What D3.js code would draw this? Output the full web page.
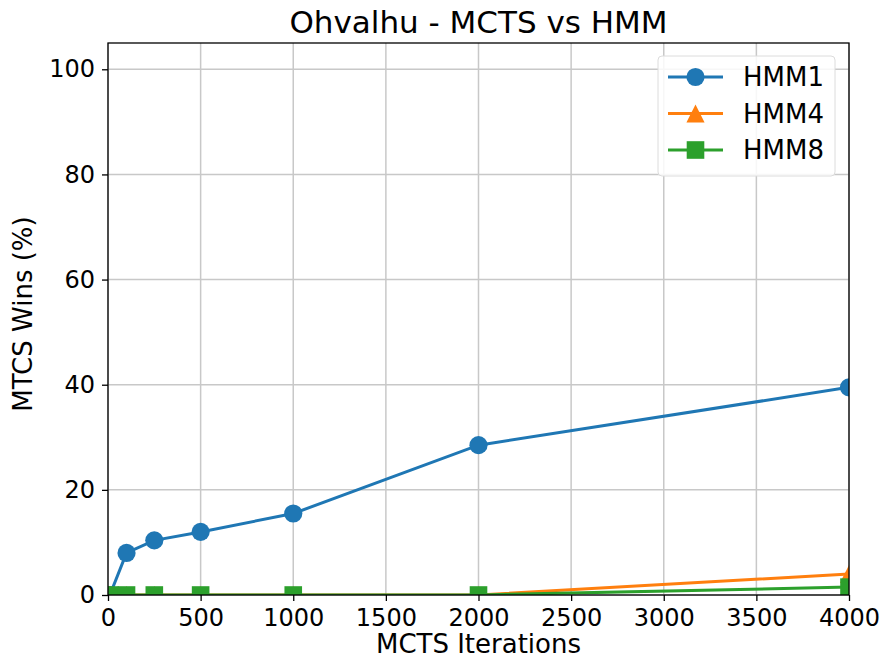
<!DOCTYPE html>
<html>
<head>
<meta charset="utf-8">
<script src="https://cdn.jsdelivr.net/npm/d3@7"></script>
<style>
  body { margin: 0; background: #fff; overflow: hidden; }
  svg { display: block; }
  text { font-family: "DejaVu Sans", sans-serif; fill: #000; }
</style>
</head>
<body>
<div id="chart"></div>
<script>
// Data
const iterations = [10, 100, 250, 500, 1000, 2000, 4000];
const hmm1 = [0, 8, 10.4, 12, 15.5, 28.5, 39.5];
const hmm4 = [0, 0, 0, 0, 0, 0, 4];
const hmm8 = [0, 0, 0, 0, 0, 0, 1.5];
const xTicks = [0, 500, 1000, 1500, 2000, 2500, 3000, 3500, 4000];
const yTicks = [0, 20, 40, 60, 80, 100];

const series = [
    { name: "HMM1", values: hmm1, color: "#1f77b4", marker: "circle" },
    { name: "HMM4", values: hmm4, color: "#ff7f0e", marker: "triangle" },
    { name: "HMM8", values: hmm8, color: "#2ca02c", marker: "square" }
];

const width = 886, height = 663;
const margin = { top: 43, right: 37, bottom: 68, left: 108 };
const innerWidth = width - margin.left - margin.right;
const innerHeight = height - margin.top - margin.bottom;

const svg = d3.select("#chart")
    .append("svg")
    .attr("width", width)
    .attr("height", height);

// Title
svg.append("text")
    .attr("x", margin.left + innerWidth / 2)
    .attr("y", 33)
    .attr("text-anchor", "middle")
    .style("font-size", "31px")
    .text("Ohvalhu - MCTS vs HMM");

const g = svg.append("g")
    .attr("transform", `translate(${margin.left}, ${margin.top})`);

const x = d3.scaleLinear().domain([0, 4000]).range([0, innerWidth]);
const y = d3.scaleLinear().domain([0, 105]).range([innerHeight, 0]);

// Grid
g.append("g")
    .selectAll("line")
    .data(xTicks)
    .enter()
    .append("line")
    .attr("x1", d => x(d)).attr("x2", d => x(d))
    .attr("y1", 0).attr("y2", innerHeight)
    .attr("stroke", "#c8c8c8")
    .attr("stroke-width", 1.5);

g.append("g")
    .selectAll("line")
    .data(yTicks)
    .enter()
    .append("line")
    .attr("x1", 0).attr("x2", innerWidth)
    .attr("y1", d => y(d)).attr("y2", d => y(d))
    .attr("stroke", "#c8c8c8")
    .attr("stroke-width", 1.5);

// Axes
const xAxis = g.append("g")
    .attr("transform", `translate(0, ${innerHeight})`)
    .call(d3.axisBottom(x).tickValues(xTicks).tickFormat(d3.format("d"))
        .tickSizeOuter(0).tickSize(6).tickPadding(8));
const yAxis = g.append("g")
    .call(d3.axisLeft(y).tickValues(yTicks).tickFormat(d3.format("d"))
        .tickSizeOuter(0).tickSize(6).tickPadding(7));

[xAxis, yAxis].forEach(a => {
    a.select(".domain").remove();
    a.selectAll("line").attr("stroke", "#000").attr("stroke-width", 1.3);
    a.selectAll("text")
        .style("font-size", "24px")
        .style("font-family", "DejaVu Sans, sans-serif")
        .attr("fill", "#000");
});

// Lines and markers, clipped to plot area
svg.append("defs").append("clipPath")
    .attr("id", "plot-clip")
    .append("rect")
    .attr("width", innerWidth)
    .attr("height", innerHeight);

const plot = g.append("g").attr("clip-path", "url(#plot-clip)");

const line = d3.line()
    .x((d, i) => x(iterations[i]))
    .y(d => y(d));

// matplotlib-style triangle: width and height equal, centred on its box
const triangleUp = {
    draw(context, size) {
        const r = Math.sqrt(size) / 2;
        context.moveTo(0, -r);
        context.lineTo(r, r);
        context.lineTo(-r, r);
        context.closePath();
    }
};

const symbolFor = {
    circle: d3.symbol().type(d3.symbolCircle).size(260),
    triangle: d3.symbol().type(triangleUp).size(330),
    square: d3.symbol().type(d3.symbolSquare).size(310)
};

series.forEach(s => {
    plot.append("path")
        .datum(s.values)
        .attr("fill", "none")
        .attr("stroke", s.color)
        .attr("stroke-width", 3)
        .attr("d", line);

    plot.selectAll(null)
        .data(s.values)
        .enter()
        .append("path")
        .attr("transform", (d, i) => `translate(${x(iterations[i])}, ${y(d)})`)
        .attr("d", symbolFor[s.marker])
        .attr("fill", s.color);
});

// Frame
g.append("rect")
    .attr("width", innerWidth)
    .attr("height", innerHeight)
    .attr("fill", "none")
    .attr("stroke", "#000")
    .attr("stroke-width", 1.3);

// Axis labels
svg.append("text")
    .attr("x", margin.left + innerWidth / 2)
    .attr("y", 653)
    .attr("text-anchor", "middle")
    .style("font-size", "26px")
    .text("MCTS Iterations");

svg.append("text")
    .attr("transform", `translate(32, ${margin.top + innerHeight / 2 - 5}) rotate(-90)`)
    .attr("text-anchor", "middle")
    .style("font-size", "26px")
    .text("MTCS Wins (%)");

// Legend
const legend = svg.append("g").attr("transform", "translate(658, 56)");
legend.append("rect")
    .attr("width", 177)
    .attr("height", 120)
    .attr("rx", 4)
    .attr("fill", "#fff")
    .attr("fill-opacity", 0.85)
    .attr("stroke", "#dcdcdc");

series.forEach((s, i) => {
    const row = legend.append("g").attr("transform", `translate(0, ${21 + i * 36.5})`);
    row.append("line")
        .attr("x1", 10).attr("x2", 65)
        .attr("stroke", s.color)
        .attr("stroke-width", 3);
    row.append("path")
        .attr("transform", "translate(37.5, 0)")
        .attr("d", symbolFor[s.marker])
        .attr("fill", s.color);
    row.append("text")
        .attr("x", 85)
        .attr("dy", "0.35em")
        .style("font-size", "26px")
        .text(s.name);
});
</script>
</body>
</html>
